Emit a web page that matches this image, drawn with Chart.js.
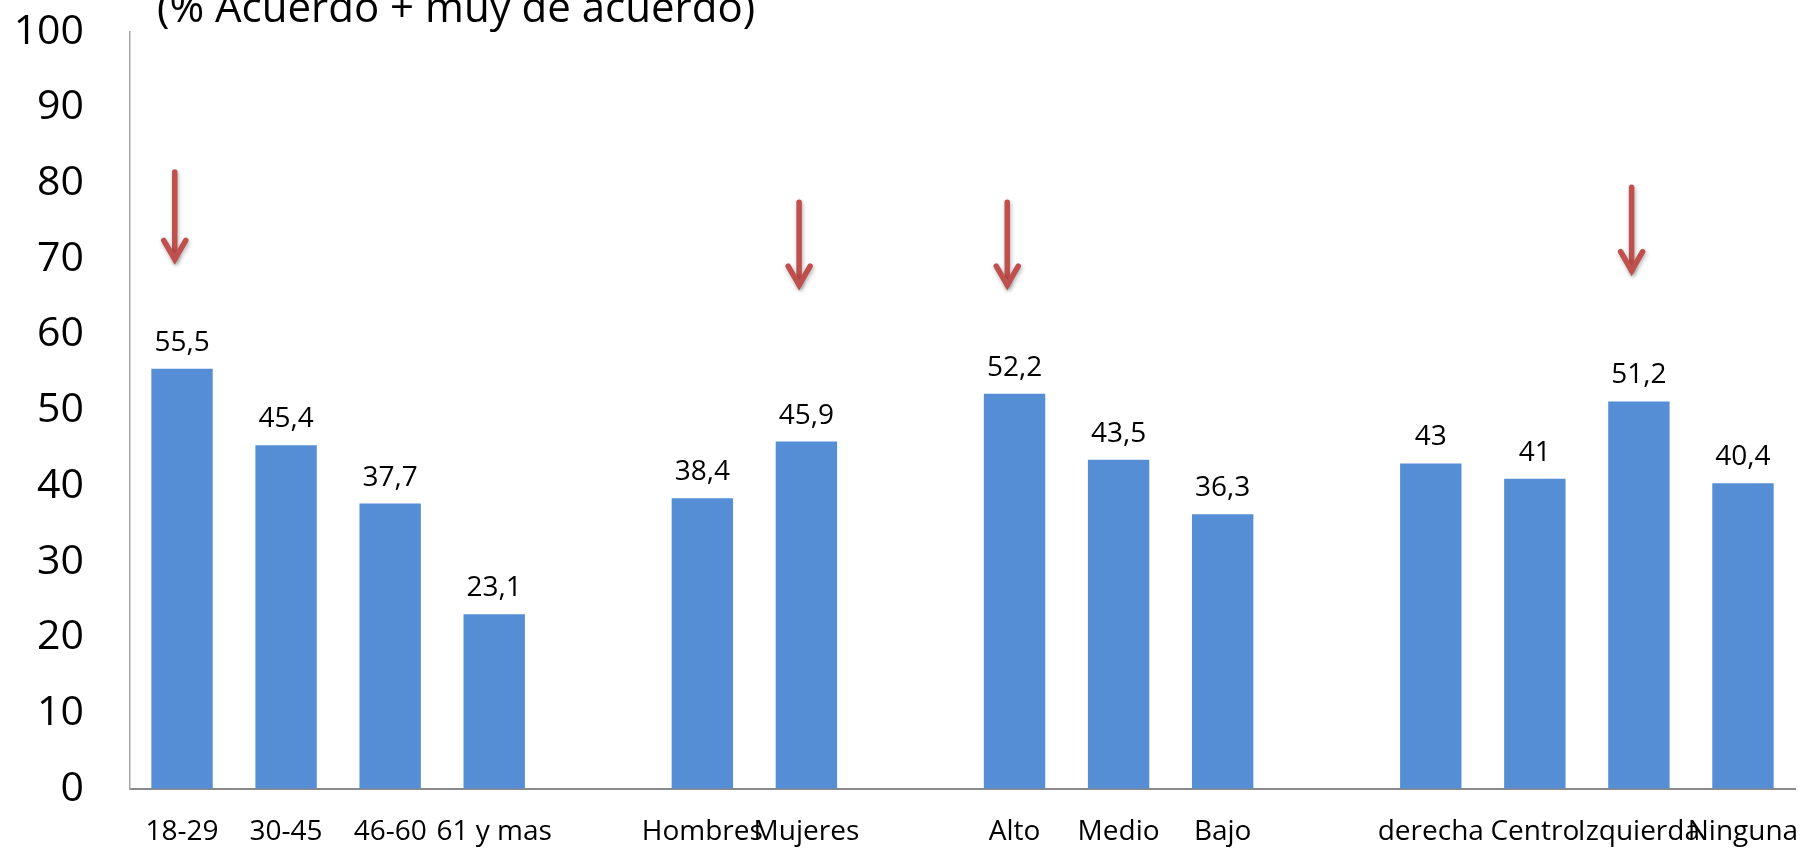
<!DOCTYPE html>
<html>
<head>
<meta charset="utf-8">
<script src="https://cdn.jsdelivr.net/npm/chart.js@4"></script>
<style>
  html, body { margin: 0; padding: 0; background: #fff; }
  #wrap { width: 1800px; height: 848px; }
</style>
</head>
<body>
<div id="wrap"><canvas id="acuerdoChart"></canvas></div>
<script>
// categories (empty strings are the gaps between groups)
var categories = ["18-29", "30-45", "46-60", "61 y mas", "",
                  "Hombres", "Mujeres", "",
                  "Alto", "Medio", "Bajo", "",
                  "derecha", "Centro", "Izquierda", "Ninguna"];
var values = [55.5, 45.4, 37.7, 23.1, null,
              38.4, 45.9, null,
              52.2, 43.5, 36.3, null,
              43, 41, 51.2, 40.4];
var yTicks = [0, 10, 20, 30, 40, 50, 60, 70, 80, 90, 100];
var titleText = "(% Acuerdo + muy de acuerdo)";
// highlight arrows: category, start value and tip value
var arrowCats = ["18-29", "Mujeres", "Alto", "Izquierda"];
var arrowFrom = [81.5, 77.5, 77.5, 79.5];
var arrowTo = [69.7, 66.3, 66.3, 68.2];

var FONT = "'Open Sans', sans-serif";

function fmt(v) {
  return String(v).replace('.', ',');
}

var titlePlugin = {
  id: 'topTitle',
  afterDraw: function(chart) {
    var ctx = chart.ctx;
    ctx.save();
    ctx.font = "42px " + FONT;
    ctx.fillStyle = '#000';
    ctx.textAlign = 'left';
    ctx.textBaseline = 'alphabetic';
    ctx.fillText(titleText, chart.chartArea.left + 27, 22);
    ctx.restore();
  }
};

var valueLabels = {
  id: 'valueLabels',
  afterDatasetsDraw: function(chart) {
    var ctx = chart.ctx;
    var meta = chart.getDatasetMeta(0);
    ctx.save();
    ctx.font = "28px " + FONT;
    ctx.fillStyle = '#000';
    ctx.textAlign = 'center';
    ctx.textBaseline = 'alphabetic';
    meta.data.forEach(function(bar, i) {
      if (values[i] === null) return;
      ctx.fillText(fmt(values[i]), bar.x, bar.y - 18);
    });
    ctx.restore();
  }
};

var arrows = {
  id: 'arrows',
  afterDatasetsDraw: function(chart) {
    var ctx = chart.ctx;
    var xs = chart.scales.x, ys = chart.scales.y;
    var w = (xs.right - xs.left) / categories.length;
    ctx.save();
    ctx.strokeStyle = '#C0504D';
    ctx.lineWidth = 5.5;
    ctx.lineCap = 'round';
    ctx.lineJoin = 'miter';
    ctx.shadowColor = 'rgba(0,0,0,0.3)';
    ctx.shadowBlur = 4;
    ctx.shadowOffsetX = 1;
    ctx.shadowOffsetY = 2;
    arrowCats.forEach(function(cat, i) {
      var x = xs.getPixelForValue(categories.indexOf(cat)) - 0.07 * w;
      var y1 = ys.getPixelForValue(arrowFrom[i]);
      var y2 = ys.getPixelForValue(arrowTo[i]);
      ctx.beginPath();
      ctx.moveTo(x, y1);
      ctx.lineTo(x, y2 - 3);
      ctx.stroke();
      ctx.beginPath();
      ctx.moveTo(x - 11, y2 - 21);
      ctx.lineTo(x, y2 - 2);
      ctx.lineTo(x + 11, y2 - 21);
      ctx.stroke();
    });
    ctx.restore();
  }
};

new Chart(document.getElementById('acuerdoChart'), {
  type: 'bar',
  data: {
    labels: categories,
    datasets: [{
      data: values,
      backgroundColor: '#558ED5',
      borderWidth: 0,
      barPercentage: 0.59,
      categoryPercentage: 1
    }]
  },
  options: {
    responsive: true,
    maintainAspectRatio: false,
    devicePixelRatio: 1,
    animation: false,
    layout: { padding: { left: 10, top: 32, right: 5, bottom: 0 } },
    plugins: {
      legend: { display: false },
      tooltip: { enabled: false }
    },
    scales: {
      x: {
        grid: { display: true, drawOnChartArea: false, drawTicks: true, tickLength: 26, color: 'rgba(0,0,0,0)' },
        border: { color: '#8a8a8a', width: 2 },
        ticks: {
          font: { family: FONT, size: 28 },
          color: '#000',
          maxRotation: 0,
          minRotation: 0,
          autoSkip: false,
          padding: 0
        },
        afterFit: function(s) {
          s.height = 59;
          s.paddingLeft = 0;
          s.paddingRight = 0;
        }
      },
      y: {
        min: 0,
        max: 100,
        grid: { display: true, drawOnChartArea: false, drawTicks: true, tickLength: 46, color: 'rgba(0,0,0,0)' },
        border: { color: '#a6a6a6', width: 1.5 },
        afterBuildTicks: function(s) {
          s.ticks = yTicks.map(function(v) { return { value: v }; });
        },
        ticks: {
          font: { family: FONT, size: 41 },
          color: '#000',
          padding: 0
        },
        afterFit: function(s) {
          s.width = 120;
          s.paddingTop = 0;
          s.paddingBottom = 0;
        }
      }
    }
  },
  plugins: [titlePlugin, valueLabels, arrows]
});
</script>
</body>
</html>
